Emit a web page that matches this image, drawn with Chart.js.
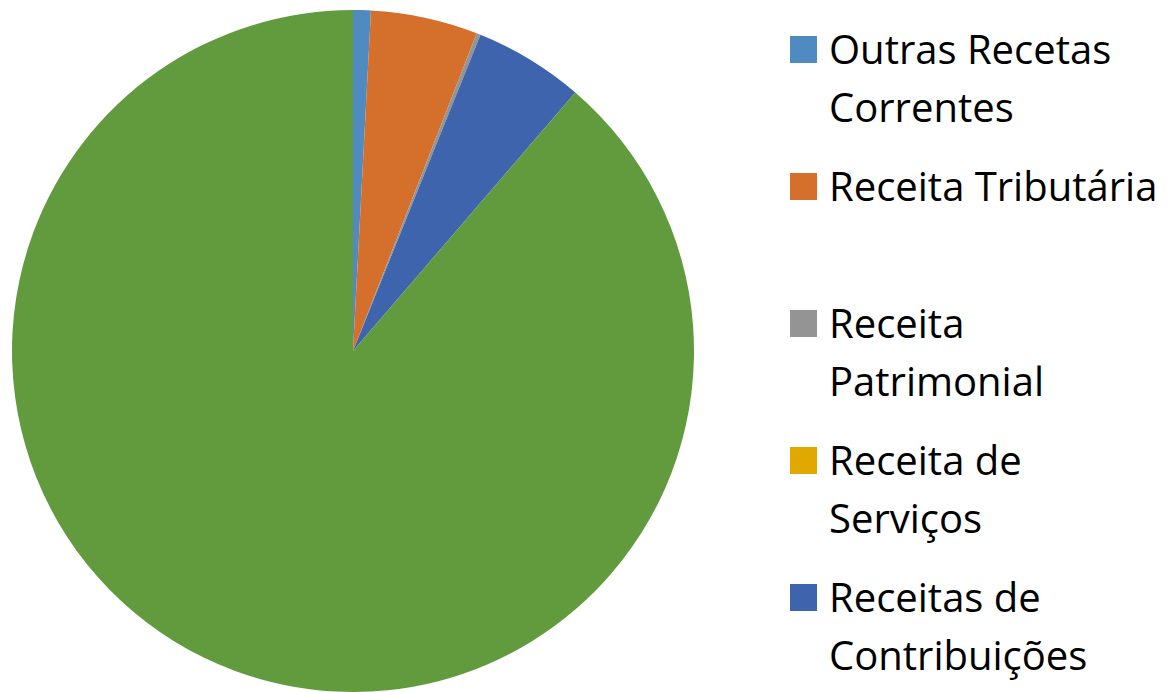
<!DOCTYPE html>
<html>
<head>
<meta charset="utf-8">
<script src="https://cdn.jsdelivr.net/npm/chart.js@4/dist/chart.umd.min.js"></script>
<style>
  html, body { margin: 0; padding: 0; background: #ffffff; overflow: hidden; }
  #wrap { position: relative; width: 1172px; height: 692px; overflow: hidden; }
  #chartBox { position: absolute; left: 0; top: 0; width: 706px; height: 692px; }
  #legend { position: absolute; left: 790px; top: 20px; margin: 0; padding: 0; list-style: none;
            font-family: "Open Sans", sans-serif; font-size: 40px; line-height: 58px; color: #000; }
  #legend li { position: relative; padding-left: 39px; min-height: 116px; margin-bottom: 21px; width: 343px; }
  #legend li span.box { position: absolute; left: 0; top: 16px; width: 27px; height: 27px; }
</style>
</head>
<body>
<div id="wrap">
  <div id="chartBox"><canvas id="c"></canvas></div>
  <ul id="legend"></ul>
</div>
<script>
const categories = [
  "Outras Recetas Correntes",
  "Receita Tributária",
  "Receita Patrimonial",
  "Receita de Serviços",
  "Receitas de Contribuições",
  "Transferências Correntes"
];
const values = [0.84, 5.07, 0.19, 0, 5.2, 88.7];
const colors = ["#4F8AC0", "#D4702C", "#949494", "#E0A800", "#3D64AD", "#629A3E"];

const htmlLegend = {
  id: 'htmlLegend',
  afterUpdate(chart) {
    const ul = document.getElementById('legend');
    ul.innerHTML = '';
    const items = chart.options.plugins.legend.labels.generateLabels(chart);
    items.forEach(item => {
      const li = document.createElement('li');
      const box = document.createElement('span');
      box.className = 'box';
      box.style.background = item.fillStyle;
      li.appendChild(box);
      li.appendChild(document.createTextNode(item.text));
      ul.appendChild(li);
    });
  }
};

new Chart(document.getElementById('c'), {
  type: 'pie',
  data: {
    labels: categories,
    datasets: [{
      data: values,
      backgroundColor: colors,
      borderWidth: 0
    }]
  },
  options: {
    responsive: true,
    maintainAspectRatio: false,
    animation: false,
    layout: { padding: { left: 12, right: 12, top: 10, bottom: 0 } },
    plugins: {
      legend: { display: false },
      tooltip: { enabled: false }
    }
  },
  plugins: [htmlLegend]
});
</script>
</body>
</html>
